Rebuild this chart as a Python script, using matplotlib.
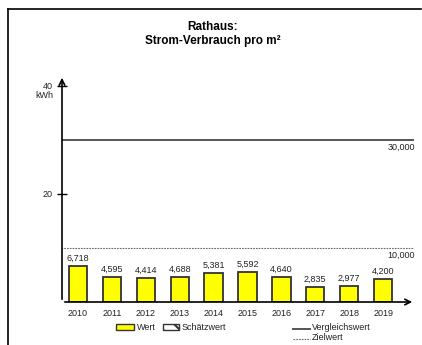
import matplotlib
matplotlib.use("Agg")
import matplotlib.pyplot as plt
from matplotlib.patches import Rectangle
from matplotlib.lines import Line2D

plt.rcParams['font.family'] = ['Liberation Sans', 'DejaVu Sans']
plt.rcParams['hatch.color'] = '#E8E800'
plt.rcParams['hatch.linewidth'] = 1.5

years = ['2010', '2011', '2012', '2013', '2014', '2015', '2016', '2017', '2018', '2019']
values = [6.718, 4.595, 4.414, 4.688, 5.381, 5.592, 4.640, 2.835, 2.977, 4.200]
labels = ['6,718', '4,595', '4,414', '4,688', '5,381', '5,592', '4,640', '2,835', '2,977', '4,200']
vergleich = 30.0
ziel = 10.0
yticks = [20, 40]

W, H = 422, 345
fig = plt.figure(figsize=(W/100, H/100), dpi=100)

def fx(px): return px / W
def fy(py): return 1 - py / H

# frame border
fig.add_artist(Line2D([fx(8), fx(8)], [fy(9), 0], color='black', lw=1.2))
fig.add_artist(Line2D([fx(8), fx(421)], [fy(9), fy(9)], color='black', lw=1.2))

# axes
ax_left, ax_right = 62, 415
ax_bottom, ax_top = 302, 75
ax = fig.add_axes([fx(ax_left), fy(ax_bottom), fx(ax_right - ax_left), (ax_bottom - ax_top) / H])
ymax = 42
ax.set_ylim(0, ymax)
ax.set_xlim(-0.47, 9.94)
for s in ax.spines.values():
    s.set_visible(False)

x = list(range(len(years)))
ax.bar(x, values, width=0.54, color='#FFFF00', edgecolor='#333333', linewidth=1.3, zorder=3)
for xi, v, lab in zip(x, values, labels):
    ax.text(xi, v + 0.6, lab, ha='center', va='bottom', fontsize=6.5, color='#222222')

# reference lines
ax.plot([-0.47, 9.88], [vergleich, vergleich], color='#555555', lw=1.4, zorder=2)
ax.plot([-0.5, 9.88], [ziel, ziel], color='#666666', lw=0.8, ls=(0, (1.5, 1)), zorder=2)
ax.text(1.0, vergleich - 0.6, '30,000', transform=ax.get_yaxis_transform(), ha='right', va='top', fontsize=6.5, color='#222222', clip_on=False)
ax.text(1.0, ziel - 0.6, '10,000', transform=ax.get_yaxis_transform(), ha='right', va='top', fontsize=6.5, color='#222222', clip_on=False)

# axis arrows
ax.annotate('', xy=(0, 1), xytext=(0, 0), xycoords='axes fraction',
            arrowprops=dict(arrowstyle='->', lw=1.2, color='black', mutation_scale=10))
ax.annotate('', xy=(1, 0), xytext=(0, 0), xycoords='axes fraction',
            arrowprops=dict(arrowstyle='->', lw=1.2, color='black', mutation_scale=10))

ax.set_yticks(yticks)
ax.set_yticklabels([str(t) for t in yticks])
ax.tick_params(axis='y', direction='inout', length=7, width=1, labelsize=6.5, pad=3, colors='black', labelcolor='#222222')
ax.set_xticks(x)
ax.set_xticklabels(years)
ax.tick_params(axis='x', length=0, labelsize=6.5, pad=5, labelcolor='#222222')
fig.text(fx(53), fy(96), 'kWh', ha='right', va='center', fontsize=6.5, color='#222222')

# title
fig.text(fx(213), fy(34), 'Rathaus:\nStrom-Verbrauch pro m²', ha='center', va='center',
         fontsize=8.5, fontweight='bold', linespacing=1.15)

# legend
fig.add_artist(Rectangle((fx(116), fy(330)), fx(18), 6/H, facecolor='#FFFF00', edgecolor='#333333', lw=1.0))
fig.text(fx(137), fy(327), 'Wert', ha='left', va='center', fontsize=6.5, color='#222222')
fig.add_artist(Rectangle((fx(163), fy(330)), fx(16), 6/H, facecolor='white', edgecolor='#333333', lw=1.0,
                         hatch='\\\\'))
fig.text(fx(182), fy(327), 'Schätzwert', ha='left', va='center', fontsize=6.5, color='#222222')
fig.add_artist(Line2D([fx(293), fx(310)], [fy(329), fy(329)], color='#555555', lw=1.4))
fig.text(fx(312), fy(328), 'Vergleichswert', ha='left', va='center', fontsize=6.5, color='#222222')
fig.add_artist(Line2D([fx(293), fx(310)], [fy(339), fy(339)], color='#666666', lw=0.8, ls=(0, (1.5, 1))))
fig.text(fx(312), fy(338), 'Zielwert', ha='left', va='center', fontsize=6.5, color='#222222')

fig.savefig('out.png', dpi=100)
